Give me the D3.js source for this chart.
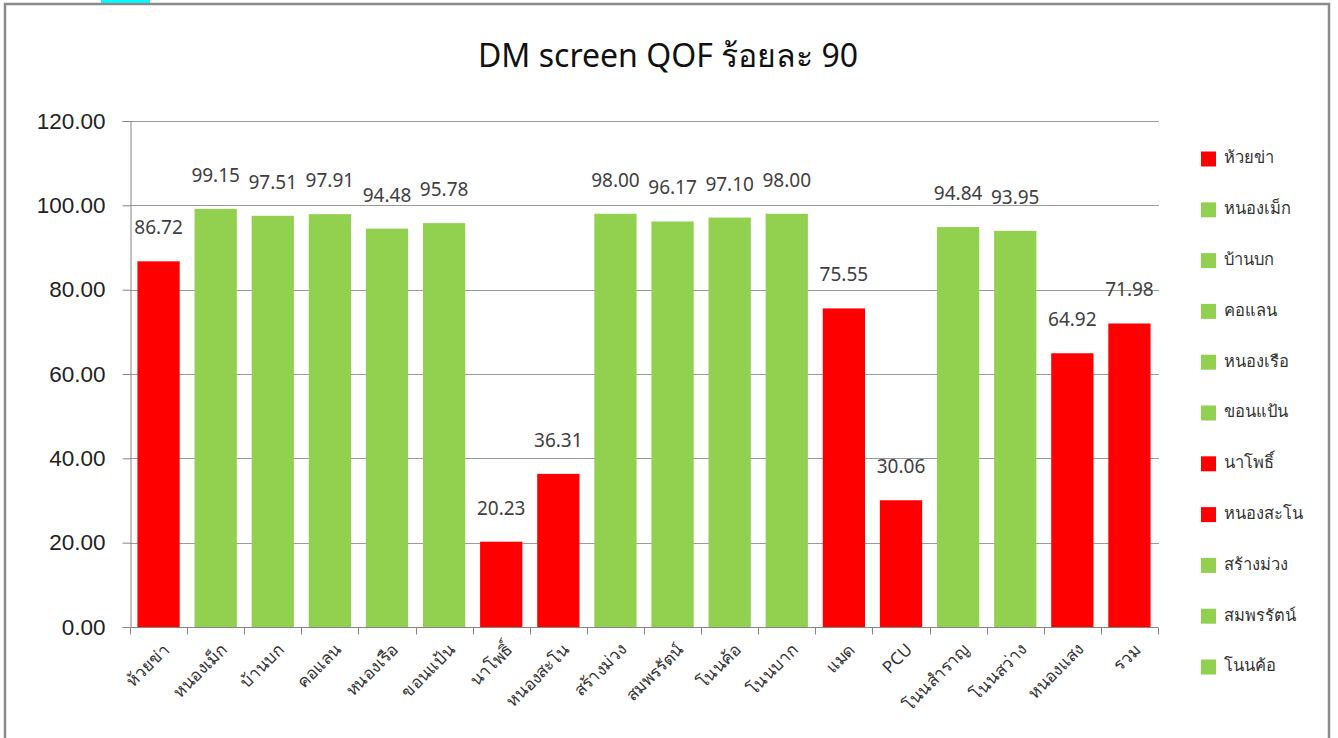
<!DOCTYPE html>
<html>
<head>
<meta charset="utf-8">
<script src="https://cdn.jsdelivr.net/npm/d3@7"></script>
<style>
html,body{margin:0;padding:0;background:#fff;}
svg{display:block;font-family:"Noto Sans","DejaVu Sans",Tahoma,sans-serif;}
</style>
</head>
<body>
<svg id="chart" width="1338" height="738"></svg>
<script>
const categories = ["ห้วยข่า","หนองเม็ก","บ้านบก","คอแลน","หนองเรือ","ขอนแป้น","นาโพธิ์","หนองสะโน","สร้างม่วง","สมพรรัตน์","โนนค้อ","โนนบาก","แมด","PCU","โนนสำราญ","โนนสว่าง","หนองแสง","รวม"];
const values = [86.72,99.15,97.51,97.91,94.48,95.78,20.23,36.31,98.00,96.17,97.10,98.00,75.55,30.06,94.84,93.95,64.92,71.98];
const yTicks = [0,20,40,60,80,100,120];
const legendCount = 11;
const target = 90;
const title = "DM screen QOF ร้อยละ 90";

const RED = "#FF0000", GREEN = "#92D050";
const colorOf = v => v < target ? RED : GREEN;

const svg = d3.select("#chart");

// frame
svg.append("rect").attr("x",101).attr("y",0).attr("width",49).attr("height",3).attr("fill","#00FFFF");
svg.append("path").attr("d","M5,738 V4 H1329 V738").attr("fill","none").attr("stroke","#8a8a8a").attr("stroke-width",2.5);

const pL = 130, pR = 1158, pT = 121, pB = 627;
const x = d3.scaleBand().domain(categories).range([pL,pR]).paddingInner(0.26).paddingOuter(0.13);
const y = d3.scaleLinear().domain([0,120]).range([pB,pT]);

// gridlines
svg.append("g").selectAll("line").data(yTicks.filter(d=>d>0)).join("line")
  .attr("x1",pL).attr("x2",pR+1).attr("y1",d=>Math.round(y(d))+0.5).attr("y2",d=>Math.round(y(d))+0.5)
  .attr("stroke","#9a9a9a").attr("stroke-width",1);

// y axis
const yAxis = svg.append("g").attr("transform",`translate(${pL+0.5},0)`)
  .call(d3.axisLeft(y).tickValues(yTicks).tickFormat(d3.format(".2f")).tickSize(8).tickPadding(17));
yAxis.select(".domain").attr("stroke","#868686");
yAxis.selectAll(".tick line").attr("stroke","#868686");
yAxis.selectAll("text").attr("font-size",22.5).attr("fill","#222");

// bars
svg.append("g").selectAll("rect").data(values).join("rect")
  .attr("x",(d,i)=>x(categories[i])).attr("width",x.bandwidth())
  .attr("y",d=>y(d)).attr("height",d=>pB-y(d)).attr("fill",colorOf);

// x axis with ticks at band boundaries
const xg = svg.append("g").attr("transform",`translate(0,${pB+0.5})`);
xg.append("line").attr("x1",pL).attr("x2",pR).attr("stroke","#868686");
const step = x.step();
xg.selectAll("line.t").data(d3.range(categories.length+1)).join("line").attr("class","t")
  .attr("x1",i=>Math.round(pL+i*step)+0.5).attr("x2",i=>Math.round(pL+i*step)+0.5)
  .attr("y1",0).attr("y2",7).attr("stroke","#868686");
xg.selectAll("text").data(categories).join("text")
  .attr("transform",d=>`translate(${x(d)+x.bandwidth()/2+9},${20}) rotate(-45)`)
  .attr("text-anchor","end").attr("dominant-baseline","middle")
  .attr("font-size",17).attr("fill","#333").text(d=>d);

// data labels
svg.append("g").selectAll("text").data(values).join("text")
  .attr("x",(d,i)=>x(categories[i])+x.bandwidth()/2)
  .attr("y",d=>y(d)-27)
  .attr("text-anchor","middle").attr("font-size",19).attr("fill","#404040")
  .text(d=>d.toFixed(2));

// title
svg.append("text").attr("x",668).attr("y",67).attr("text-anchor","middle")
  .attr("font-size",32).attr("fill","#111").text(title);

// legend
const lg = svg.append("g");
const items = categories.slice(0,legendCount);
const ly = d3.scalePoint().domain(d3.range(legendCount)).range([159,667]);
items.forEach((c,i)=>{
  lg.append("rect").attr("x",1201).attr("y",ly(i)-7.5).attr("width",15).attr("height",15).attr("fill",colorOf(values[i]));
  lg.append("text").attr("x",1224).attr("y",ly(i)).attr("dominant-baseline","middle")
    .attr("font-size",16.5).attr("fill","#333").text(c);
});
</script>
</body>
</html>
